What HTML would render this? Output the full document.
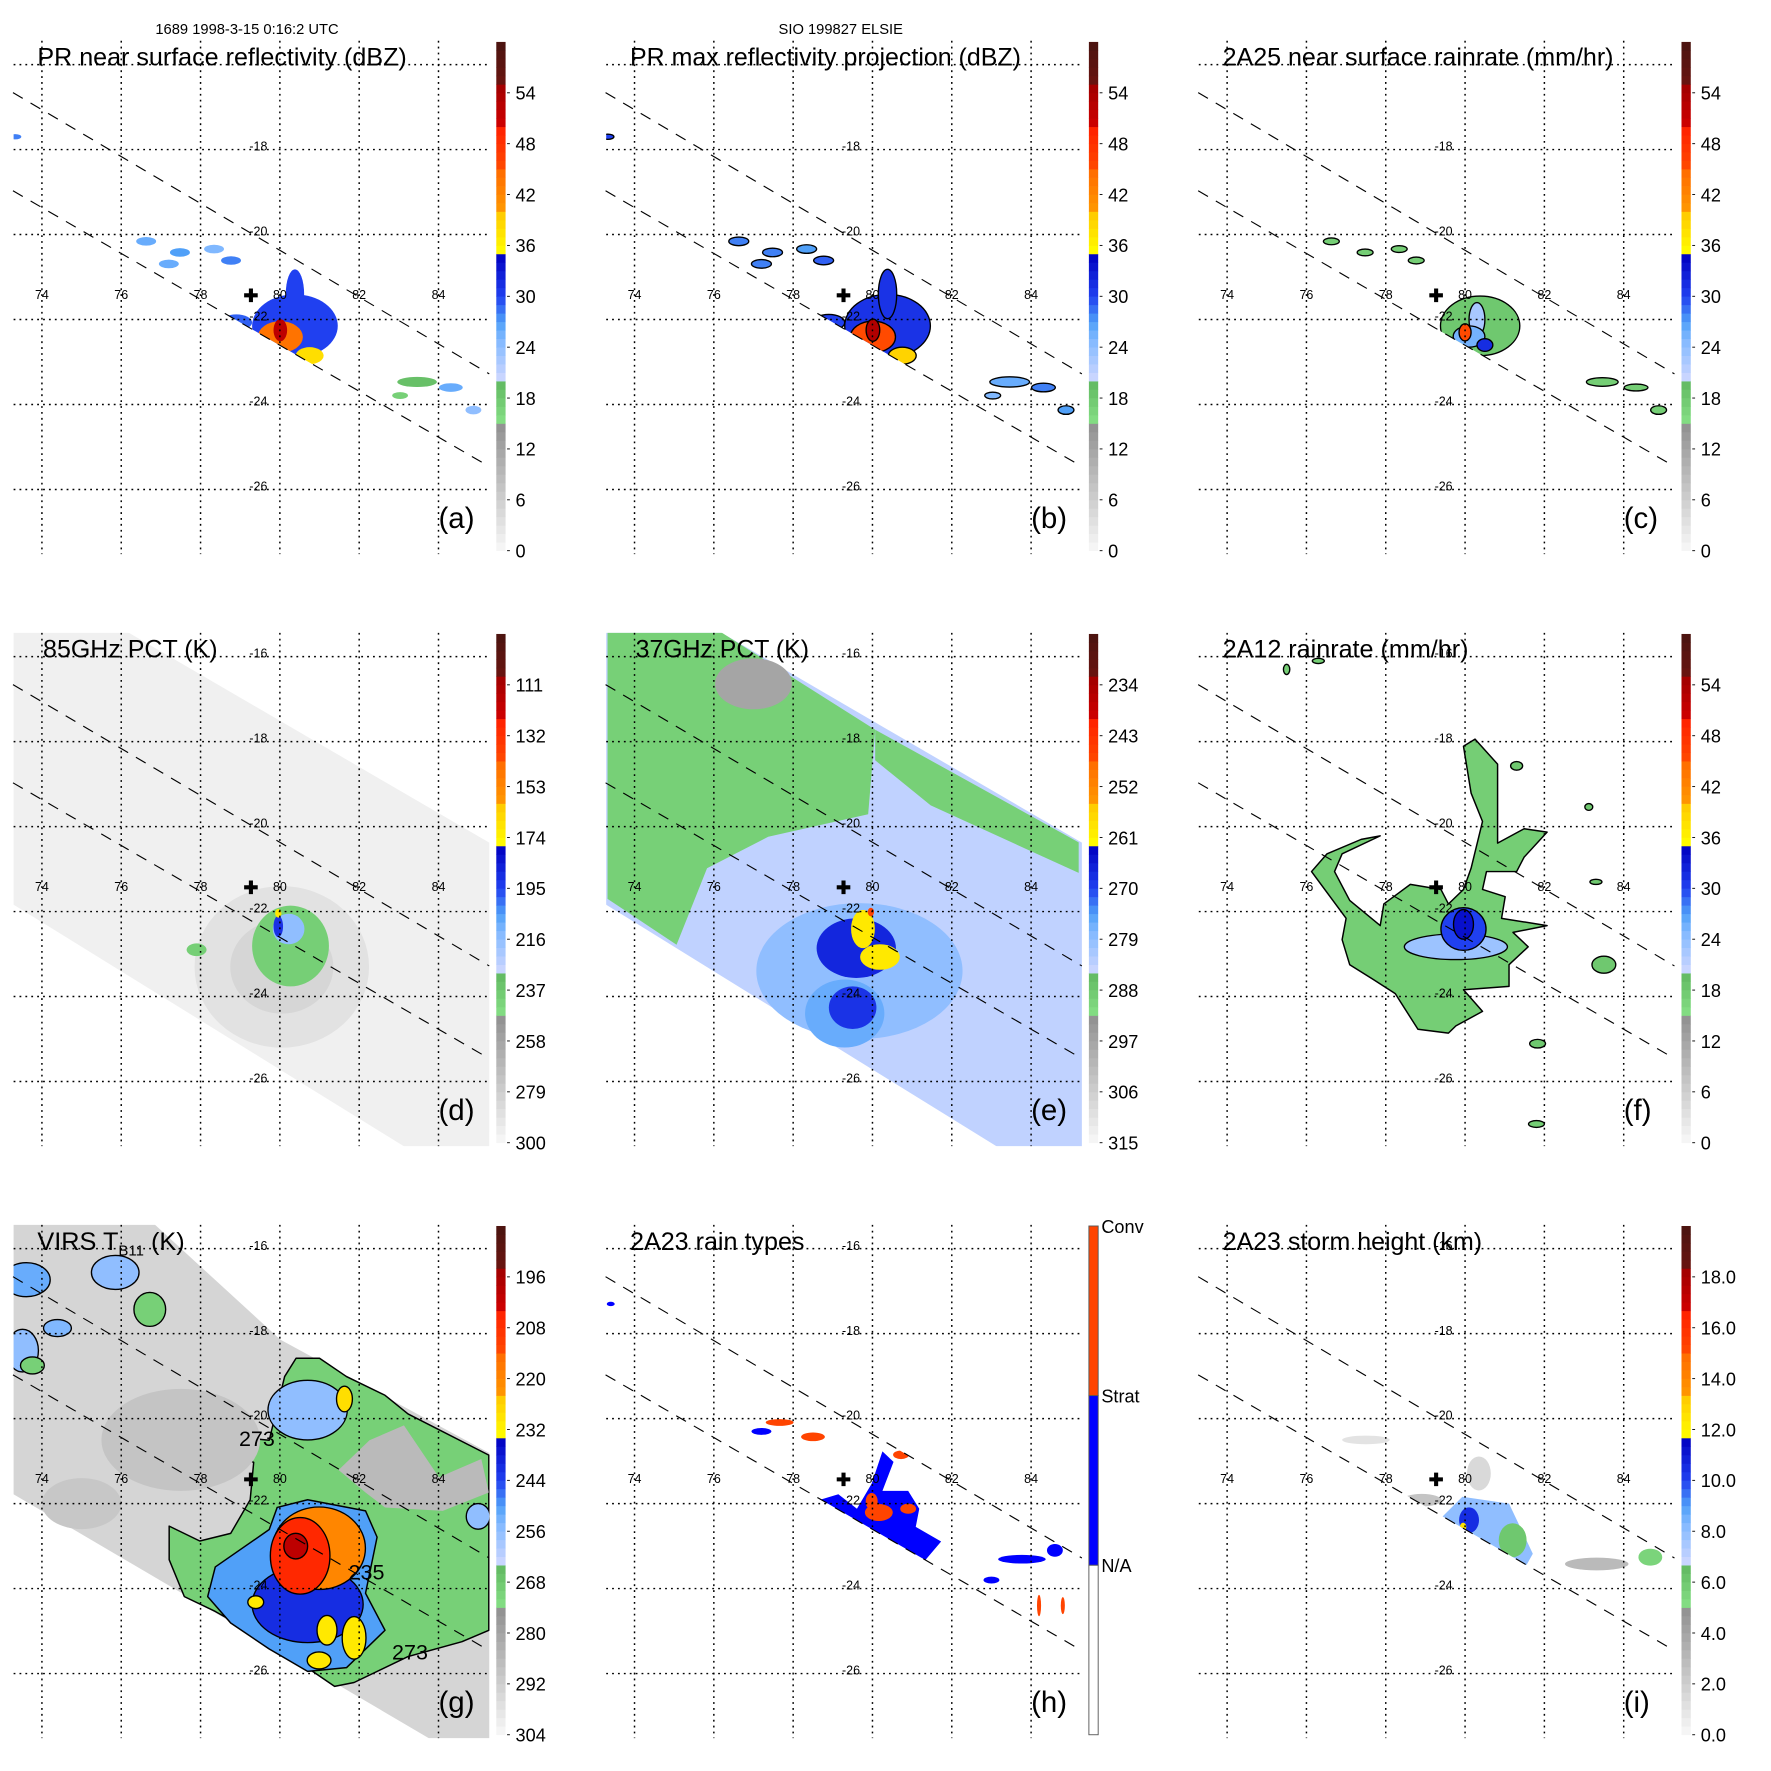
<!DOCTYPE html>
<html><head><meta charset="utf-8"><title>TRMM ELSIE overview</title>
<style>html,body{margin:0;padding:0;background:#fff;}svg{display:block;font-family:"Liberation Sans",Arial,sans-serif;}</style>
</head><body>
<svg id="fig" xmlns="http://www.w3.org/2000/svg" width="1771" height="1771" viewBox="0 0 1563 1563">
<defs>
<clipPath id="mapclip"><rect x="12" y="36" width="420" height="453"/></clipPath>
</defs>
<rect x="0" y="0" width="1563" height="1563" fill="#fff"/>
<text x="218" y="30" font-size="13" text-anchor="middle">1689 1998-3-15 0:16:2 UTC</text>
<text x="742" y="30" font-size="13" text-anchor="middle">SIO 199827 ELSIE</text>
</svg>
<script>
// ---------- data ----------
const lonTicks=[74,76,78,80,82,84];
const latTicks=[-16,-18,-20,-22,-24,-26];
const prSwath=[[73.27,-16.66],[85.28,-23.28],[85.28,-25.46],[73.27,-18.97]];
const tmiSwath=[[73.27,-15.4],[76.12,-15.4],[85.28,-20.38],[85.28,-27.6],[83.26,-27.6],[73.27,-21.83]];
const virsSwath=[[73.27,-15.41],[76.82,-15.41],[80.01,-18.14],[85.28,-20.81],[85.28,-27.66],[84.01,-27.66],[73.27,-21.77]];
const stormCenter=[79.27,-21.43];

const cbDbz=['0','6','12','18','24','30','36','42','48','54'];
const cbRain=['0','6','12','18','24','30','36','42','48','54'];
const cb85=['300','279','258','237','216','195','174','153','132','111'];
const cb37=['315','306','297','288','279','270','261','252','243','234'];
const cbVirs=['304','292','280','268','256','244','232','220','208','196'];
const cbHeight=['0.0','2.0','4.0','6.0','8.0','10.0','12.0','14.0','16.0','18.0'];
const cbTypes=['Conv','Strat','N/A'];

// [lon, lat, rlon, rlat, value]
const aPatches=[[80.38,-22.15,1.08,0.74,30],[78.90,-22.07,0.40,0.19,29],[80.38,-21.40,0.23,0.58,30],[80.01,-22.41,0.57,0.37,44],[80.01,-22.25,0.17,0.26,52],[80.75,-22.85,0.35,0.20,38],
[76.63,-20.16,0.25,0.10,26],[77.48,-20.42,0.25,0.10,27],[78.34,-20.34,0.25,0.10,25],[77.20,-20.69,0.25,0.10,26],[78.77,-20.61,0.25,0.10,28],
[83.46,-23.47,0.50,0.12,19],[84.31,-23.60,0.30,0.10,26],[84.88,-24.13,0.20,0.10,24],[83.03,-23.79,0.20,0.08,17],[73.33,-17.70,0.15,0.06,28]];
const bPatches=[[80.38,-22.15,1.08,0.74,31],[78.90,-22.07,0.40,0.19,30],[80.38,-21.40,0.23,0.58,31],[80.01,-22.41,0.57,0.37,45],[80.01,-22.25,0.17,0.26,53],[80.75,-22.85,0.35,0.20,39],
[76.63,-20.16,0.25,0.10,28],[77.48,-20.42,0.25,0.10,28],[78.34,-20.34,0.25,0.10,27],[77.20,-20.69,0.25,0.10,28],[78.77,-20.61,0.25,0.10,29],
[83.46,-23.47,0.50,0.12,26],[84.31,-23.60,0.30,0.10,28],[84.88,-24.13,0.20,0.10,27],[83.03,-23.79,0.20,0.08,25],[73.33,-17.70,0.15,0.06,30]];
const cPatches=[[80.38,-22.15,1.00,0.70,4],[80.30,-22.00,0.20,0.40,10],[80.10,-22.40,0.40,0.25,14],[80.50,-22.60,0.20,0.15,22],[80.00,-22.30,0.15,0.20,40],
[76.63,-20.16,0.20,0.08,3],[77.48,-20.42,0.20,0.08,3],[78.34,-20.34,0.20,0.08,3],[78.77,-20.61,0.20,0.08,3],
[83.46,-23.47,0.40,0.10,3],[84.31,-23.60,0.30,0.08,3],[84.88,-24.13,0.20,0.10,3]];
const dPatches=[[80.05,-23.30,2.20,1.90,289],[80.05,-23.30,1.30,1.10,283],[80.27,-22.81,0.97,0.95,240],[80.22,-22.41,0.40,0.36,216],[79.96,-22.35,0.12,0.25,191],[79.96,-22.04,0.08,0.10,170],[77.90,-22.90,0.25,0.15,240]];
const ePolys=[
 {pts:[[73.32,-15.39],[76.12,-15.39],[80.07,-17.72],[79.89,-19.71],[77.37,-20.24],[75.83,-20.98],[75.06,-22.78],[73.32,-21.7]],v:289.5},
 {pts:[[80.07,-17.72],[85.2,-20.37],[85.2,-21.09],[81.47,-19.5],[80.07,-18.44]],v:289.5}];
const ePatches=[[77.0,-16.64,0.97,0.60,297],[79.67,-23.40,2.60,1.60,279],[79.3,-24.4,1.0,0.8,276],[79.59,-22.86,1.00,0.70,267],[79.5,-24.26,0.60,0.50,268.5],[79.76,-22.41,0.30,0.45,259.5],[80.19,-23.07,0.50,0.30,259.5],[79.96,-22.01,0.08,0.10,246]];
const fPolys=[{pts:[[77.95,-21.82],[78.62,-21.36],[79.39,-21.48],[79.58,-21.82],[79.96,-21.48],[80.15,-20.98],[80.44,-19.88],[80.15,-19.21],[79.96,-18.11],[80.25,-17.94],[80.82,-18.53],[80.82,-19.88],[80.82,-20.39],[81.49,-20.05],[82.07,-20.13],[81.49,-20.72],[81.30,-21.06],[80.54,-21.06],[80.44,-21.48],[81.01,-21.65],[80.92,-22.16],[82.07,-22.33],[81.21,-22.49],[81.59,-22.83],[81.11,-23.25],[81.11,-23.76],[79.96,-23.84],[80.44,-24.35],[79.77,-24.69],[79.58,-24.86],[78.81,-24.77],[78.24,-23.93],[77.67,-23.59],[77.09,-23.25],[76.90,-22.66],[77.0,-22.16],[76.13,-21.06],[76.52,-20.64],[77.38,-20.30],[77.86,-20.22],[76.90,-20.64],[76.71,-21.06],[77.09,-21.74],[77.86,-22.33]],v:3}];
const fPatches=[[79.77,-22.83,1.30,0.30,11],[79.96,-22.41,0.57,0.50,20],[79.96,-22.30,0.25,0.35,25],[83.5,-23.25,0.30,0.20,4],[81.83,-25.11,0.20,0.10,4],[81.3,-18.57,0.15,0.10,4],[83.12,-19.54,0.10,0.08,4],[75.5,-16.3,0.08,0.12,3],[76.3,-16.1,0.15,0.06,3],[83.3,-21.3,0.15,0.06,4],[81.8,-27.0,0.20,0.08,3]];
const gPolys=[
 {pts:[[77.21,-22.53],[77.98,-22.88],[78.76,-22.70],[79.25,-21.91],[79.34,-21.03],[78.08,-20.59],[78.76,-20.42],[79.73,-20.51],[80.12,-19.01],[80.41,-18.58],[81.0,-18.58],[81.68,-19.01],[82.65,-19.45],[83.23,-19.89],[85.27,-20.86],[85.27,-24.98],[84.59,-25.25],[83.23,-25.60],[81.87,-26.21],[81.38,-26.30],[79.73,-25.25],[78.37,-24.54],[77.59,-24.19],[77.21,-23.32]],v:270},
 {pts:[[81.48,-21.21],[82.26,-20.51],[83.13,-20.16],[84.01,-21.38],[85.08,-20.95],[85.27,-21.74],[84.11,-22.17],[82.65,-22.09],[82.16,-21.74]],v:286},
 {pts:[[78.37,-23.49],[79.73,-22.61],[79.93,-22.09],[80.70,-21.91],[82.16,-22.17],[82.45,-22.79],[82.16,-24.11],[82.65,-24.98],[81.68,-25.86],[80.70,-25.95],[79.73,-25.42],[78.76,-24.81],[78.18,-24.19]],v:250}];
const gPatches=[[77.5,-20.5,2.0,1.2,289],[75.0,-22.0,1.0,0.6,290],[80.70,-24.37,1.40,0.90,241],[80.70,-19.80,1.00,0.70,256],
[80.99,-23.05,1.17,0.97,220],[80.51,-23.23,0.75,0.90,206],[80.40,-23.00,0.30,0.30,200],
[81.19,-24.98,0.25,0.35,230],[81.87,-25.16,0.30,0.50,230],[80.99,-25.69,0.30,0.20,230],[79.39,-24.32,0.20,0.15,230],[81.63,-19.54,0.20,0.30,228],
[73.61,-16.73,0.60,0.40,252],[75.85,-16.56,0.60,0.40,256],[76.72,-17.43,0.40,0.40,270],[73.51,-18.4,0.40,0.50,256],[74.39,-17.87,0.35,0.20,254],[73.76,-18.75,0.30,0.20,270],[85.0,-22.3,0.3,0.3,256]];
const gContourLabels=[[78.97,-20.64,'273'],[81.73,-23.79,'235'],[82.83,-25.67,'273']];
const hPolys=[{pts:[[78.68,-21.91],[79.14,-21.78],[79.61,-22.12],[79.98,-21.53],[80.25,-20.77],[80.53,-21.02],[80.25,-21.70],[80.90,-21.70],[81.18,-22.12],[81.09,-22.55],[81.73,-22.89],[81.27,-23.40],[79.42,-22.38],[78.68,-22.0]],v:1}];
const hPatches=[[80.16,-22.21,0.35,0.20,2],[79.98,-21.95,0.15,0.20,2],[80.72,-20.85,0.20,0.10,2],[80.90,-22.12,0.20,0.12,2],[77.66,-20.09,0.35,0.08,2],[78.50,-20.43,0.30,0.10,2],[77.2,-20.3,0.25,0.08,1],
[83.77,-23.31,0.60,0.10,1],[84.6,-23.1,0.2,0.15,1],[83.0,-23.8,0.2,0.08,1],[84.2,-24.4,0.05,0.25,2],[84.8,-24.4,0.05,0.2,2],[73.4,-17.3,0.1,0.05,1]];
const iPolys=[{pts:[[79.93,-21.84],[81.11,-22.0],[81.71,-23.18],[81.54,-23.46],[79.34,-22.39]],v:8}];
const iPatches=[[80.10,-22.39,0.25,0.30,10.5],[81.2,-22.86,0.35,0.40,6],[79.95,-22.55,0.08,0.10,12.5],[78.91,-21.92,0.50,0.15,2.5],[80.35,-21.29,0.30,0.40,1.5],[83.32,-23.42,0.80,0.15,3],[84.67,-23.26,0.30,0.20,5.5],[77.5,-20.5,0.6,0.1,1]];

// ---------- helpers ----------
const NS='http://www.w3.org/2000/svg';
const svg=document.getElementById('fig');
function X(lon){return 37+(lon-74)*35;}
function Y(lat){return 57+(-16-lat)*37.5;}
const CB_TOP=37, CB_BOT=486;
function CBY(pos){return CB_BOT-(pos/60)*(CB_BOT-CB_TOP);}
const stops=[[0,[248,248,248]],[14.99,[144,144,144]],[15,[134,224,134]],[19.99,[96,184,96]],[20,[208,216,255]],[25,[128,184,255]],[27,[80,160,248]],[30,[32,64,240]],[34.99,[0,0,192]],[35,[255,255,0]],[39.99,[255,200,0]],[40,[255,153,0]],[44.99,[255,106,0]],[45,[255,74,0]],[49.99,[255,32,0]],[50,[208,0,0]],[54.99,[160,0,0]],[55,[106,20,16]],[60,[74,20,16]]];
function cmap(p){p=Math.max(0,Math.min(60,p));for(let i=1;i<stops.length;i++){if(p<=stops[i][0]){const a=stops[i-1],b=stops[i];const t=(p-a[0])/((b[0]-a[0])||1);const c=a[1].map((v,k)=>Math.round(v+(b[1][k]-v)*t));return 'rgb('+c.join(',')+')';}}return 'rgb(74,20,16)';}
const ramps={
 dbz:v=>cmap(v), rain:v=>cmap(15+v*0.75), k85:v=>cmap((300-v)/3.5), k37:v=>cmap((315-v)/1.5), virs:v=>cmap((304-v)/2), km:v=>cmap(v*3), type:v=>(v===2?'#ff4400':'#0000ff')};
function mk(tag,attrs,parent){const e=document.createElementNS(NS,tag);for(const k in attrs)e.setAttribute(k,attrs[k]);parent.appendChild(e);return e;}
function ptsStr(pts){return pts.map(p=>X(p[0]).toFixed(1)+','+Y(p[1]).toFixed(1)).join(' ');}

const defs=svg.querySelector('defs');
const prClip=mk('clipPath',{id:'prclip'},defs);
const prPoly=mk('polygon',{points:ptsStr(prSwath)},prClip);

const panels=[
 {id:'a',col:0,row:0,title:'PR near surface reflectivity (dBZ)',tw:326,ramp:'dbz',labels:cbDbz,swath:null,polys:[],patches:aPatches,outline:false,pr:true},
 {id:'b',col:1,row:0,title:'PR max reflectivity projection (dBZ)',tw:345,ramp:'dbz',labels:cbDbz,swath:null,polys:[],patches:bPatches,outline:true,pr:true},
 {id:'c',col:2,row:0,title:'2A25 near surface rainrate (mm/hr)',tw:345,ramp:'rain',labels:cbRain,swath:null,polys:[],patches:cPatches,outline:true,pr:true},
 {id:'d',col:0,row:1,title:'85GHz PCT (K)',tw:154,ramp:'k85',labels:cb85,swath:tmiSwath,swathV:296,polys:[],patches:dPatches,outline:false,pr:false},
 {id:'e',col:1,row:1,title:'37GHz PCT (K)',tw:153,ramp:'k37',labels:cb37,swath:tmiSwath,swathV:283.5,polys:ePolys,patches:ePatches,outline:false,pr:false},
 {id:'f',col:2,row:1,title:'2A12 rainrate (mm/hr)',tw:217,ramp:'rain',labels:cbRain,swath:null,polys:fPolys,patches:fPatches,outline:true,pr:false},
 {id:'g',col:0,row:2,title:'VIRS',tw:130,ramp:'virs',labels:cbVirs,swath:virsSwath,swathV:294,polys:gPolys,patches:gPatches,outline:true,outlineMax:276,pr:false},
 {id:'h',col:1,row:2,title:'2A23 rain types',tw:154,ramp:'type',labels:cbTypes,swath:null,polys:hPolys,patches:hPatches,outline:false,pr:true},
 {id:'i',col:2,row:2,title:'2A23 storm height (km)',tw:229,ramp:'km',labels:cbHeight,swath:null,polys:iPolys,patches:iPatches,outline:false,pr:true}
];
const colDx=[0,523,1046], rowDy=[0,522.5,1045];

panels.forEach(P=>{
 const col=ramps[P.ramp];
 const strokeFor=v=>(P.outline&&(P.outlineMax===undefined||v<=P.outlineMax))?'#000':'none';
 const g=mk('g',{transform:'translate('+colDx[P.col]+','+rowDy[P.row]+')'},svg);
 
 
 const map=mk('g',{'clip-path':'url(#mapclip)'},g);
 
 
 if(P.swath){
  const s=mk('polygon',{points:ptsStr(P.swath),fill:col(P.swathV)},map);
  
  
 }
 const data=mk('g',P.pr?{'clip-path':'url(#prclip)'}:{},map);
 
 
 P.polys.forEach(pp=>{
  const p=mk('polygon',{points:ptsStr(pp.pts),fill:col(pp.v),stroke:strokeFor(pp.v),'stroke-width':1.3,'stroke-linejoin':'round'},data);
  
  
 });
 P.patches.forEach(d=>{
  const e=mk('ellipse',{cx:X(d[0]).toFixed(1),cy:Y(d[1]).toFixed(1),rx:(d[2]*35).toFixed(1),ry:(d[3]*37.5).toFixed(1),fill:col(d[4]),stroke:strokeFor(d[4]),'stroke-width':1.2},data);
  
  
 });
 if(P.id==='g'){
  gContourLabels.forEach(L=>{
   const t=mk('text',{x:X(L[0]).toFixed(1),y:Y(L[1]).toFixed(1),'font-size':19,fill:'#000'},map);
   t.textContent=L[2];
   
   
  });
 }
 lonTicks.forEach(lon=>{
  const l=mk('line',{x1:X(lon),x2:X(lon),y1:36,y2:489,stroke:'#000','stroke-width':1.3,'stroke-dasharray':'1.6 3.6'},g);
  
  
  const t=mk('text',{x:X(lon),y:264,'font-size':11,'text-anchor':'middle'},g);
  t.textContent=String(lon);
  
  
 });
 latTicks.forEach(lat=>{
  const l=mk('line',{x1:12,x2:432,y1:Y(lat),y2:Y(lat),stroke:'#000','stroke-width':1.3,'stroke-dasharray':'1.6 3.6'},g);
  
  
  if(!(P.row===0&&lat===-16)){
   const t=mk('text',{x:236,y:Y(lat)+1,'font-size':11,'text-anchor':'end'},g);
   t.textContent=String(lat);
   
   
  }
 });
 [[0,1],[3,2]].forEach(pr=>{
  const a=prSwath[pr[0]],b=prSwath[pr[1]];
  const l=mk('line',{x1:X(a[0]),y1:Y(a[1]),x2:X(b[0]),y2:Y(b[1]),stroke:'#000','stroke-width':1,'stroke-dasharray':'10 8'},g);
  
  
 });
 const cx=X(stormCenter[0]),cy=Y(stormCenter[1]);
 const cr=mk('path',{d:'M'+(cx-6)+' '+cy+'H'+(cx+6)+'M'+cx+' '+(cy-6)+'V'+(cy+6),stroke:'#000','stroke-width':3.6},g);
 
 
 const cb=mk('g',{},g);
 
 
 if(P.ramp==='type'){
  const segs=[['#ffffff',0,20],['#0000ff',20,40],['#ff4400',40,60]];
  segs.forEach(s=>{
   const r=mk('rect',{x:438,y:CBY(s[2]),width:8.2,height:CBY(s[1])-CBY(s[2]),fill:s[0],stroke:'#555','stroke-width':0.8},cb);
   
   
  });
  cbTypes.forEach((lab,i)=>{
   const t=mk('text',{x:449,y:CBY(60-i*20)+6,'font-size':16},cb);
   t.textContent=lab;
   
   
  });
 } else {
  for(let k=0;k<60;k++){
   const r=mk('rect',{x:438,y:CBY(k+1).toFixed(2),width:8.2,height:((CB_BOT-CB_TOP)/60+0.3).toFixed(2),fill:cmap(k+0.5)},cb);
   
   
  }
  P.labels.forEach((lab,i)=>{
   const y=CBY(i*6);
   const tk=mk('line',{x1:447.5,x2:450,y1:y,y2:y,stroke:'#000','stroke-width':0.8},cb);
   
   
   const t=mk('text',{x:455,y:y+6,'font-size':16},cb);
   t.textContent=lab;
   
   
  });
 }
 const tt=mk('text',{x:P.id==='d'||P.id==='e'?38:33,y:58,'font-size':22,textLength:P.tw,lengthAdjust:'spacingAndGlyphs'},g);
 if(P.id==='g'){
  tt.appendChild(document.createTextNode('VIRS T'));
  const sub=mk('tspan',{'font-size':13,dy:5},tt);
  sub.textContent='B11';
  const rest=mk('tspan',{dy:-5},tt);
  rest.textContent=' (K)';
 } else tt.textContent=P.title;
 
 
 const lt=mk('text',{x:387,y:466,'font-size':26},g);
 lt.textContent='('+P.id+')';
 
 
});
</script>
</body></html>
